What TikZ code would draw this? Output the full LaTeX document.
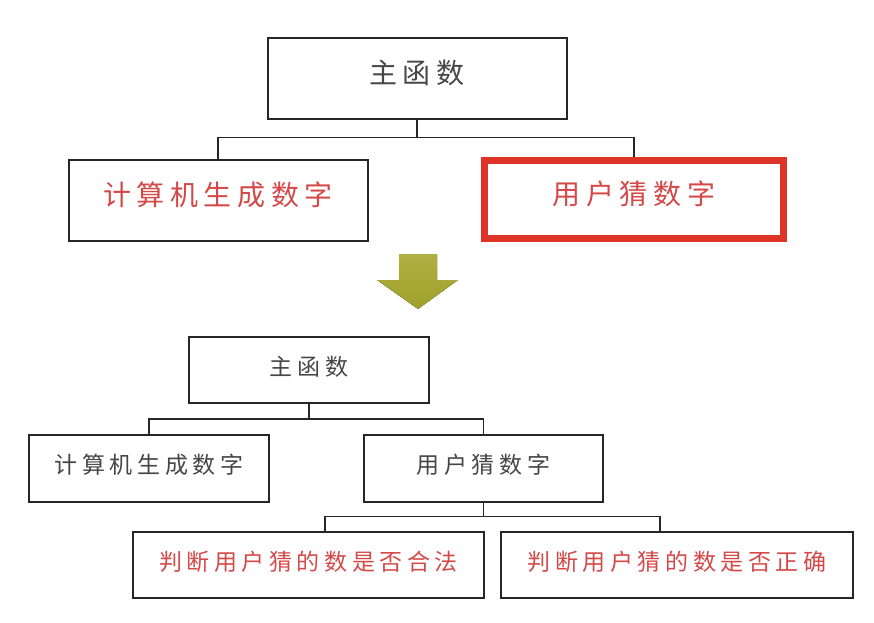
\documentclass[tikz,border=0pt]{standalone}
\usepackage{fontspec}
\newfontfamily\cjk[LetterSpace=20]{Noto Sans CJK SC}
\usetikzlibrary{positioning,calc}
\definecolor{boxred}{RGB}{222,52,40}
\definecolor{txtred}{RGB}{212,72,72}
\definecolor{txtgray}{RGB}{70,70,70}
\definecolor{olivearrow}{RGB}{168,168,46}
\tikzset{
  box/.style={rectangle, draw=black!85, line width=2pt, inner sep=0pt, text height=1em, text depth=0pt, font=\cjk, text=txtgray},
  big/.style={box, minimum width=299pt, minimum height=81pt, font=\cjk\fontsize{28}{28}\selectfont},
  small/.style={box, minimum width=240pt, minimum height=66pt, font=\cjk\fontsize{23}{23}\selectfont},
  hot/.style={text=txtred},
  connect/.style={line width=1.8pt, draw=black!85}
}
\begin{document}
\begin{tikzpicture}[x=1pt,y=-1pt]
	\useasboundingbox (0,0) rectangle (874,622);

	% before
	\node[big] (main) at (417,78) {主函数};
	\node[big,hot] (gen) at (218,200) {计算机生成数字};
	\node[big,hot,draw=boxred,line width=7pt,minimum height=78pt] (guess) at (634,199.5) {用户猜数字};

	\draw[connect] (main.south) -- ++(0,18) -| (gen.north);
	\draw[connect] (main.south) -- ++(0,18) -| (guess.north);

	% arrow
	\fill[top color=olivearrow!90!white, bottom color=olivearrow!95!black]
		(399,254) -- (437,254) -- (437,280) -- (458,280) -- (418,309) -- (377,280) -- (399,280) -- cycle;

	% after
	\node[small] (main2) at (309,370) {主函数};
	\node[small,minimum height=67pt] (gen2) at (149,468) {计算机生成数字};
	\node[small,minimum height=67pt,minimum width=239pt] (guess2) at (483.5,468) {用户猜数字};
	\node[small,hot,minimum width=351pt] (legal) at (308.5,565) {判断用户猜的数是否合法};
	\node[small,hot,minimum width=352pt] (right) at (677,565) {判断用户猜的数是否正确};

	\draw[connect] (main2.south) -- ++(0,15) -| (gen2.north);
	\draw[connect] (main2.south) -- ++(0,15) -| (guess2.north);
	\draw[connect] (guess2.south) -- ++(0,14) -| ([xshift=16.5pt]legal.north);
	\draw[connect] (guess2.south) -- ++(0,14) -| ([xshift=-17pt]right.north);
\end{tikzpicture}
\end{document}
